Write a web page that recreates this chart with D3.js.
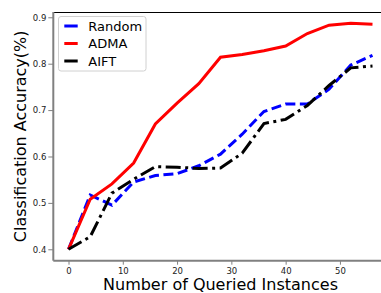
<!DOCTYPE html>
<html>
<head>
<meta charset="utf-8">
<script src="https://d3js.org/d3.v7.min.js"></script>
<style>
 body { margin: 0; background: #fff; }
 text { font-family: "DejaVu Sans", sans-serif; }
</style>
</head>
<body>
<svg></svg>
<script>
// размеры рисунка
const width = 381;
const height = 293;

// данные
const queried = [0, 4, 8, 12, 16, 20, 24, 28, 32, 36, 40, 44, 48, 52, 56];
const randomAcc = [0.400, 0.517, 0.495, 0.545, 0.559, 0.563, 0.580, 0.605, 0.648, 0.697, 0.713, 0.713, 0.745, 0.797, 0.818];
const admaAcc = [0.400, 0.508, 0.541, 0.586, 0.670, 0.715, 0.757, 0.814, 0.820, 0.828, 0.838, 0.865, 0.883, 0.887, 0.885];
const aiftAcc = [0.400, 0.427, 0.521, 0.551, 0.578, 0.577, 0.574, 0.575, 0.607, 0.671, 0.680, 0.710, 0.753, 0.791, 0.795];
const xTicks = [0, 10, 20, 30, 40, 50];
const yTicks = [0.4, 0.5, 0.6, 0.7, 0.8, 0.9];
const seriesNames = ["Random", "ADMA", "AIFT"];

let svg = d3.select("svg")
 .attr("width", width)
 .attr("height", height);

// область графика
const plotLeft = 53.3, plotRight = 387.7, plotTop = 12, plotBottom = 260.7;

let x = d3.scaleLinear().domain([-2.8, 58.8]).range([plotLeft, plotRight]);
let y = d3.scaleLinear().domain([0.3754, 0.9114]).range([plotBottom, plotTop]);

// верхняя рамка
svg.append("line")
 .attr("x1", plotLeft).attr("x2", width)
 .attr("y1", plotTop + 0.5).attr("y2", plotTop + 0.5)
 .style("stroke", "black")
 .style("stroke-width", 1);

// оси
let yAxis = svg.append("g")
 .attr("transform", `translate(${plotLeft},0)`)
 .call(d3.axisLeft(y).tickValues(yTicks).tickFormat(d3.format(".1f")).tickSize(5).tickPadding(2));
let xAxis = svg.append("g")
 .attr("transform", `translate(0,${plotBottom})`)
 .call(d3.axisBottom(x).tickValues(xTicks).tickSize(4).tickPadding(3));

[xAxis, yAxis].forEach(a => {
 a.select(".domain").style("stroke", "#808080").style("stroke-width", 2);
 a.selectAll(".tick line").style("stroke", "#808080").style("stroke-width", 1);
 a.selectAll(".tick text").style("font-size", "8.5px").style("fill", "#222")
  .style("font-family", "DejaVu Sans");
});
// убрать выступы у линий осей
yAxis.select(".domain").attr("d", `M0,${plotBottom}V${plotTop}`);
xAxis.select(".domain").attr("d", `M${plotLeft},0H${width}`);

// линии
const line = d3.line()
 .x((d, i) => x(queried[i]))
 .y(d => y(d));

const styles = [
 {data: randomAcc, color: "#0000ff", dash: "10,4.5"},
 {data: admaAcc, color: "#ff0000", dash: null},
 {data: aiftAcc, color: "#000000", dash: "15,4.5,3,4.5"}
];

styles.forEach(s => {
 svg.append("path")
  .attr("d", line(s.data))
  .style("fill", "none")
  .style("stroke", s.color)
  .style("stroke-width", 3)
  .style("stroke-dasharray", s.dash);
});

// подписи осей
svg.append("text")
 .attr("x", (plotLeft + plotRight) / 2)
 .attr("y", 289.5)
 .attr("text-anchor", "middle")
 .style("font-size", "16px")
 .text("Number of Queried Instances");

svg.append("text")
 .attr("transform", `translate(26,${(plotTop + plotBottom) / 2}) rotate(-90)`)
 .attr("text-anchor", "middle")
 .style("font-size", "16px")
 .text("Classification Accuracy(%)");

// легенда
let legend = svg.append("g");
legend.append("rect")
 .attr("x", 58.5).attr("y", 16.5)
 .attr("width", 87.5).attr("height", 54.5)
 .attr("rx", 2.5)
 .style("fill", "white").style("fill-opacity", 0.8)
 .style("stroke", "#d0d0d0").style("stroke-width", 1);

seriesNames.forEach((name, i) => {
 let ly = 26 + i * 17.5;
 legend.append("line")
  .attr("x1", 64.3).attr("x2", 77.7)
  .attr("y1", ly).attr("y2", ly)
  .style("stroke", styles[i].color)
  .style("stroke-width", 3);
 legend.append("text")
  .attr("x", 88.3).attr("y", ly + 4.7)
  .style("font-size", "13px")
  .text(name);
});
</script>
</body>
</html>
